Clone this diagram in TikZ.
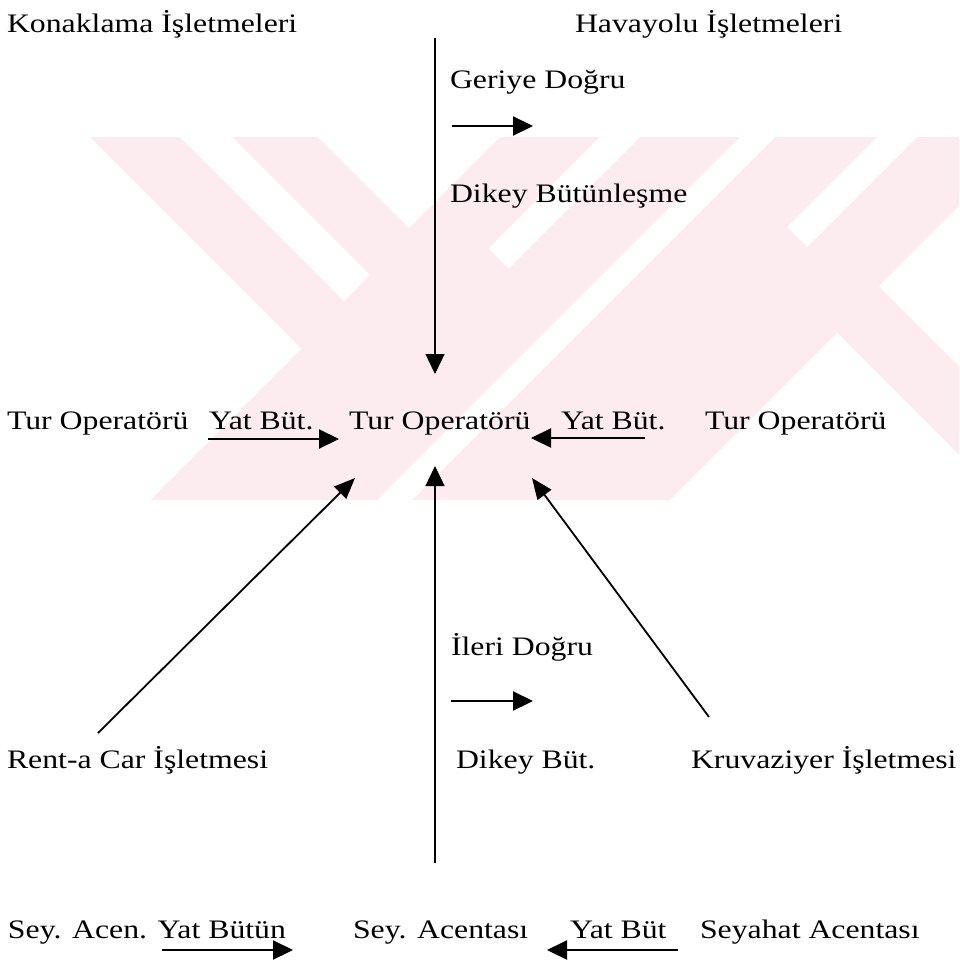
\documentclass[tikz,border=0pt]{standalone}
\usepackage{fontspec}
\setmainfont{Liberation Serif}[FakeStretch=1.19]
\usetikzlibrary{arrows.meta}
\definecolor{wm}{RGB}{252,235,239}
\begin{document}
\begin{tikzpicture}[x=1pt,y=-1pt,
  lbl/.style={anchor=base west,inner sep=0pt,outer sep=0pt,font=\fontsize{26.7}{30}\selectfont},
  longln/.style={line width=1.4pt,-{Triangle[length=20pt,width=19pt]}},
  diag/.style={line width=1.8pt,-{Triangle[length=21pt,width=17pt]}},
  shortar/.style={line width=2.2pt,-{Triangle[length=20pt,width=19pt]}}]
\useasboundingbox (0,0) rectangle (959,964);
% watermark
\fill[wm] (0,137) rectangle (959,500);
\fill[white] (0,137) -- (90,137) -- (301.5,348.5) -- (150,500) -- (0,500) -- cycle;
\fill[white] (180,137) -- (232,137) -- (370,275) -- (344,301) -- cycle;
\fill[white] (318,137) -- (500,137) -- (409,228) -- cycle;
\fill[white] (600,137) -- (640,137) -- (508.5,268.5) -- (488.5,248.5) -- cycle;
\fill[white] (740,137) -- (775,137) -- (412,500) -- (377,500) -- cycle;
\fill[white] (877,137) -- (917,137) -- (807,247) -- (787,227) -- cycle;
\fill[white] (879,286) -- (959,206) -- (959,366) -- cycle;
\fill[white] (837,333) -- (959,455) -- (959,500) -- (670,500) -- cycle;
% labels
\node[lbl] (konak) at (7,32) {Konaklama İşletmeleri};
\node[lbl] (hava) at (575,32) {Havayolu İşletmeleri};
\node[lbl] (geri) at (450,88) {Geriye Doğru};
\node[lbl] (dikeyA) at (450,202) {Dikey Bütünleşme};
\node[lbl] (turL) at (7,429) {Tur Operatörü};
\node[lbl] (yatL) at (209,429) {Yat Büt.};
\node[lbl] (turC) at (349,429) {Tur Operatörü};
\node[lbl] (yatR) at (561,429) {Yat Büt.};
\node[lbl] (turR) at (705,429) {Tur Operatörü};
\node[lbl] (ileri) at (451,655) {İleri Doğru};
\node[lbl] (dikeyB) at (456,768) {Dikey Büt.};
\node[lbl] (rent) at (7,768) {Rent-a Car İşletmesi};
\node[lbl] (kruv) at (691,768) {Kruvaziyer İşletmesi};
\node[lbl] (seyL) at (8,938) {Sey. Acen. Yat Bütün};
\node[lbl] (seyC) at (353,938) {Sey. Acentası};
\node[lbl] (yatB) at (570,938) {Yat Büt};
\node[lbl] (seyR) at (700,938) {Seyahat Acentası};
% connector end points
\coordinate (vtop) at (435,38);
\coordinate (vtip) at (435,374);
\coordinate (vbot) at (435,863);
\coordinate (uptip) at (435,466);
\coordinate (ldtail) at (98,733);
\coordinate (ldtip) at (355,478);
\coordinate (rdtail) at (709,717);
\coordinate (rdtip) at (532,478);
\coordinate (hlA) at (208,439);
\coordinate (hlB) at (339,439);
\coordinate (hrA) at (645,438);
\coordinate (hrB) at (531,438);
\coordinate (gA) at (452,126);
\coordinate (gB) at (533,126);
\coordinate (iA) at (451,701);
\coordinate (iB) at (533,701);
\coordinate (blA) at (162,950);
\coordinate (blB) at (293,950);
\coordinate (brA) at (678,950);
\coordinate (brB) at (547,950);
% connectors
\draw[longln] (vtop) -- (vtip);
\draw[longln] (vbot) -- (uptip);
\draw[diag] (ldtail) -- (ldtip);
\draw[diag] (rdtail) -- (rdtip);
\draw[shortar] (hlA) -- (hlB);
\draw[shortar] (hrA) -- (hrB);
\draw[shortar] (gA) -- (gB);
\draw[shortar] (iA) -- (iB);
\draw[shortar] (blA) -- (blB);
\draw[shortar] (brA) -- (brB);
\end{tikzpicture}
\end{document}
